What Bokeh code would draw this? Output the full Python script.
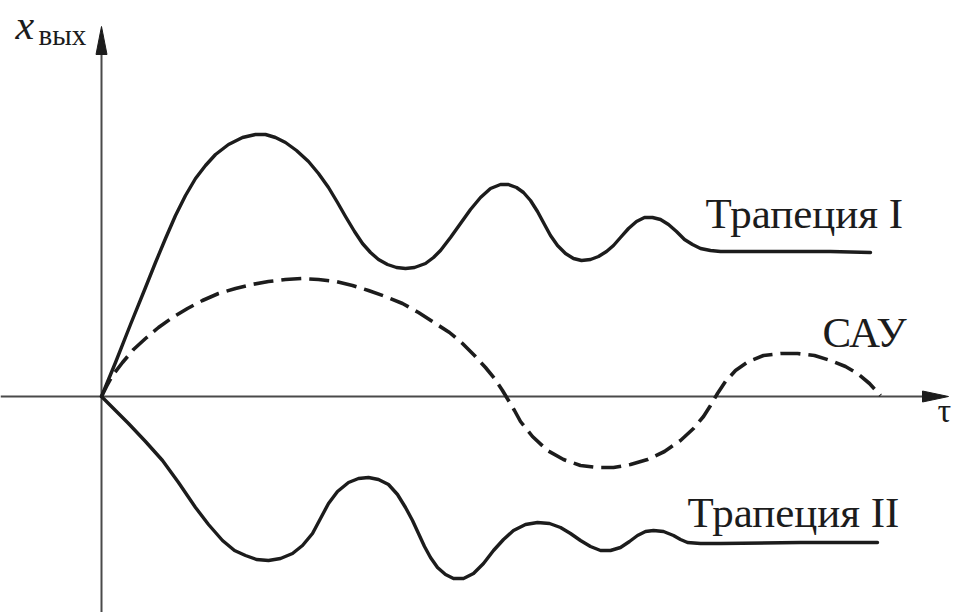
from bokeh.plotting import figure
from bokeh.models import Range1d
from bokeh.core.properties import value
from bokeh.embed import file_html
from bokeh.resources import INLINE

# Transient responses x_вых(τ): two trapezoid approximations and the ACS response
t_trap1 = [0.00, 0.14, 0.29, 0.44, 0.54, 0.64, 0.74, 0.84, 0.94, 1.04, 1.14, 1.27, 1.41,
           1.54, 1.64, 1.74, 1.84, 1.95, 2.07, 2.17, 2.27, 2.36, 2.44, 2.53, 2.61, 2.69,
           2.77, 2.86, 2.95, 3.04, 3.13, 3.24, 3.32, 3.39, 3.49, 3.59, 3.69, 3.79, 3.89,
           3.99, 4.07, 4.15, 4.22, 4.29, 4.36, 4.43, 4.49, 4.56, 4.64, 4.72, 4.80, 4.89,
           4.97, 5.05, 5.12, 5.19, 5.27, 5.35, 5.43, 5.51, 5.59, 5.67, 5.75, 5.83, 5.91,
           5.99, 6.09, 6.19, 6.79, 7.29, 7.69]
x_trap1 = [0.00, 0.34, 0.72, 1.09, 1.34, 1.58, 1.81, 2.01, 2.18, 2.31, 2.42, 2.52, 2.59,
           2.62, 2.62, 2.59, 2.54, 2.46, 2.35, 2.23, 2.09, 1.94, 1.80, 1.65, 1.53, 1.44,
           1.37, 1.32, 1.29, 1.28, 1.29, 1.33, 1.39, 1.46, 1.59, 1.73, 1.87, 1.99, 2.08,
           2.12, 2.12, 2.09, 2.04, 1.96, 1.85, 1.72, 1.61, 1.51, 1.43, 1.38, 1.36, 1.37,
           1.40, 1.45, 1.51, 1.59, 1.68, 1.75, 1.79, 1.79, 1.77, 1.72, 1.65, 1.57, 1.52,
           1.48, 1.46, 1.45, 1.45, 1.45, 1.44]

t_sau = [0.00, 0.05, 0.11, 0.21, 0.32, 0.44, 0.57, 0.71, 0.86, 1.01, 1.17, 1.34, 1.50,
         1.67, 1.84, 2.01, 2.17, 2.34, 2.51, 2.67, 2.84, 3.01, 3.17, 3.34, 3.48, 3.61,
         3.73, 3.84, 3.93, 4.01, 4.07, 4.13, 4.19, 4.31, 4.46, 4.62, 4.79, 4.96, 5.12,
         5.29, 5.46, 5.63, 5.79, 5.92, 6.02, 6.09, 6.16, 6.24, 6.34, 6.47, 6.62, 6.79,
         6.96, 7.13, 7.29, 7.44, 7.56, 7.68, 7.79]
x_sau = [0.00, 0.10, 0.21, 0.34, 0.47, 0.58, 0.69, 0.79, 0.88, 0.96, 1.03, 1.08, 1.12,
         1.15, 1.17, 1.18, 1.17, 1.15, 1.11, 1.06, 1.00, 0.93, 0.84, 0.73, 0.64, 0.53,
         0.41, 0.29, 0.18, 0.06, -0.04, -0.14, -0.25, -0.40, -0.54, -0.63, -0.69, -0.71,
         -0.71, -0.68, -0.63, -0.55, -0.44, -0.32, -0.20, -0.09, 0.03, 0.15, 0.26, 0.35,
         0.41, 0.43, 0.43, 0.41, 0.36, 0.30, 0.23, 0.13, 0.01]

t_trap2 = [0.00, 0.14, 0.27, 0.44, 0.61, 0.77, 0.94, 1.07, 1.21, 1.33, 1.44, 1.55, 1.67,
           1.79, 1.91, 2.01, 2.11, 2.19, 2.27, 2.36, 2.47, 2.57, 2.67, 2.77, 2.87, 2.96,
           3.04, 3.11, 3.17, 3.23, 3.29, 3.36, 3.44, 3.52, 3.62, 3.72, 3.82, 3.92, 4.02,
           4.12, 4.24, 4.36, 4.48, 4.59, 4.69, 4.79, 4.89, 4.99, 5.09, 5.19, 5.28, 5.36,
           5.44, 5.52, 5.62, 5.72, 5.79, 5.86, 5.99, 6.19, 6.99, 7.76]
x_trap2 = [0.00, -0.14, -0.27, -0.45, -0.64, -0.86, -1.11, -1.28, -1.44, -1.54, -1.59,
           -1.63, -1.64, -1.62, -1.57, -1.49, -1.37, -1.22, -1.07, -0.95, -0.86, -0.82,
           -0.81, -0.83, -0.88, -0.98, -1.11, -1.24, -1.37, -1.50, -1.61, -1.71, -1.78,
           -1.82, -1.82, -1.77, -1.67, -1.54, -1.43, -1.34, -1.28, -1.26, -1.27, -1.31,
           -1.37, -1.44, -1.50, -1.54, -1.54, -1.51, -1.45, -1.39, -1.35, -1.34, -1.35,
           -1.39, -1.43, -1.46, -1.47, -1.47, -1.46, -1.46]

curve_labels = ["Трапеция I", "САУ", "Трапеция II"]

INK = "#1c1c1c"
AXIS = "#4a4a4a"
SERIF = "Liberation Serif"

p = figure(width=955, height=612, output_backend="svg", toolbar_location=None,
           x_range=Range1d(-1.01, 8.54), y_range=Range1d(-2.16, 3.96),
           x_axis_type=None, y_axis_type=None, min_border=0,
           outline_line_color=None, background_fill_color="white",
           border_fill_color="white")
p.grid.visible = False

# coordinate axes with narrow arrowheads
x_end, y_end = 8.47, 3.70
p.line([-1.01, x_end - 0.1], [0, 0], line_color=AXIS, line_width=2)
p.line([0, 0], [-2.16, y_end - 0.1], line_color=AXIS, line_width=2)
p.patch([x_end, x_end - 0.26, x_end - 0.26], [0, 0.055, -0.055],
        fill_color=INK, line_color=INK, line_width=1)
p.patch([0, 0.055, -0.055], [y_end, y_end - 0.28, y_end - 0.28],
        fill_color=INK, line_color=INK, line_width=1)

# curves
p.line(t_trap1, x_trap1, line_color=INK, line_width=3.4, line_join="round", line_cap="round")
p.line(t_trap2, x_trap2, line_color=INK, line_width=3.4, line_join="round", line_cap="round")
p.line(t_sau, x_sau, line_color=INK, line_width=3.6, line_dash="20 8", line_join="round")

# curve captions
p.text(x=[6.04, 7.21, 5.86], y=[1.83, 0.64, -1.16], text=curve_labels,
       text_font=value(SERIF), text_font_size="43px", text_color=INK,
       text_baseline="alphabetic", text_align="left")

# axis titles
p.text(x=[-0.86], y=[3.72], text=["x"], text_font=value(SERIF), text_font_size="42px",
       text_font_style="italic", text_color=INK, text_baseline="alphabetic")
p.text(x=[-0.63], y=[3.62], text=["вых"], text_font=value(SERIF), text_font_size="29px",
       text_color=INK, text_baseline="alphabetic")
p.text(x=[8.36], y=[-0.14], text=["τ"], text_font=value(SERIF), text_font_size="34px",
       text_color=INK, text_baseline="alphabetic")

open("out.html", "w").write(file_html(p, INLINE))
